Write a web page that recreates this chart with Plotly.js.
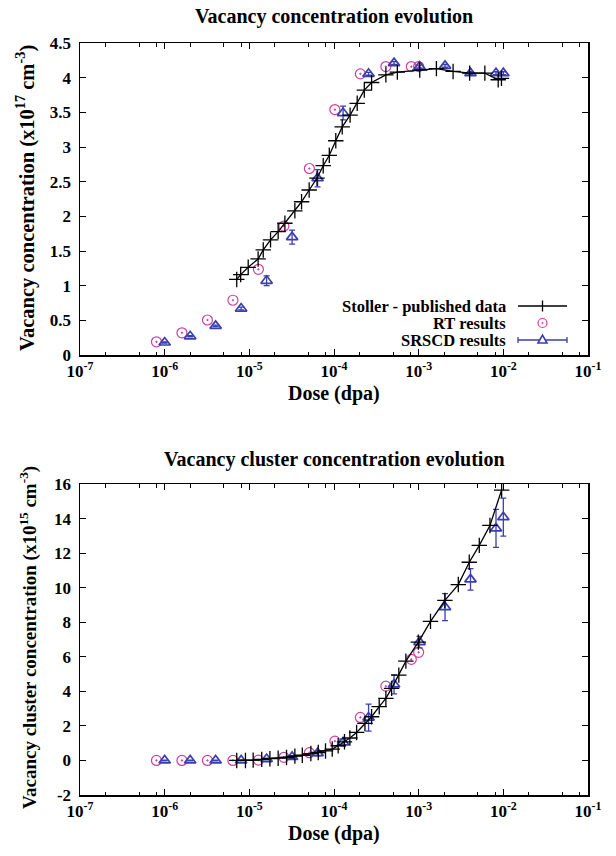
<!DOCTYPE html>
<html><head><meta charset="utf-8">
<script src="https://cdn.plot.ly/plotly-3.0.1.min.js"></script>
<style>html,body{margin:0;padding:0;background:#fff}#chart{width:616px;height:856px}</style>
</head><body><div id="chart"></div>
<script>
// ---------- Data: top panel (vacancy concentration, x1e17 cm^-3) ----------
const topStollerDose = [7.1e-6,7.9e-6,9.7e-6,1.27e-5,1.46e-5,1.78e-5,2.19e-5,2.63e-5,3.45e-5,4.14e-5,5.09e-5,6.3e-5,7.46e-5,8.8e-5,1.05e-4,1.25e-4,1.55e-4,1.88e-4,2.28e-4,2.78e-4,4.1e-4,5.6e-4,1.03e-3,1.62e-3,2.55e-3,4.0e-3,6.05e-3,8.7e-3,9.5e-3];
const topStollerVal  = [1.09,1.16,1.265,1.385,1.515,1.66,1.78,1.90,2.08,2.21,2.38,2.55,2.73,2.88,3.09,3.29,3.46,3.63,3.82,3.93,4.04,4.08,4.11,4.13,4.09,4.065,4.065,3.97,3.99];
const rtDose = [8e-7,1.6e-6,3.2e-6,6.4e-6,1.28e-5,2.56e-5,5.12e-5,1.024e-4,2.048e-4,4.096e-4,8.192e-4,1e-3];
const topRtVal = [0.19,0.32,0.505,0.79,1.236,1.86,2.69,3.54,4.055,4.16,4.16,4.16];
const srscdDose = [1e-6,2e-6,4e-6,8e-6,1.6e-5,3.2e-5,6.4e-5,1.28e-4,2.56e-4,5.12e-4,1.024e-3,2.048e-3,4.096e-3,8.192e-3,1e-2];
const topSrscdVal = [0.18,0.27,0.42,0.67,1.07,1.70,2.55,3.49,4.055,4.21,4.16,4.17,4.065,4.065,4.065];
const topSrscdErr = [0.01,0.01,0.01,0.02,0.07,0.1,0.125,0.1,0.02,0.02,0.02,0.02,0.02,0.02,0.02];

// ---------- Data: bottom panel (vacancy cluster concentration, x1e15 cm^-3) ----------
const botStollerDose = [7.1e-6,9.0e-6,1.11e-5,1.40e-5,1.75e-5,2.19e-5,2.75e-5,3.45e-5,4.22e-5,5.33e-5,6.52e-5,7.94e-5,9.53e-5,1.12e-4,1.33e-4,1.54e-4,1.85e-4,2.32e-4,2.78e-4,3.42e-4,4.10e-4,4.79e-4,5.83e-4,7.06e-4,9.91e-4,1.38e-3,2.04e-3,2.94e-3,3.96e-3,5.20e-3,6.95e-3,9.55e-3];
const botStollerVal  = [0.0,0.0,0.02,0.06,0.10,0.13,0.17,0.25,0.30,0.40,0.46,0.55,0.66,0.85,1.08,1.30,1.62,2.14,2.53,3.11,3.59,4.17,4.94,5.75,6.85,8.05,9.26,10.18,11.47,12.45,13.6,15.65];
const botRtVal = [0,0,0,0,0.02,0.18,0.45,1.12,2.49,4.3,5.85,6.26];
const botSrscdVal = [0,0,0,0,0.08,0.2,0.42,1.05,2.48,4.4,6.85,8.87,10.48,13.43,14.08];
const botSrscdErr = [0.02,0.02,0.02,0.02,0.05,0.08,0.15,0.2,0.78,0.55,0.33,0.78,0.62,1.1,1.1];

// ---------- Tick labels ----------
const decadeVals = [1e-7,1e-6,1e-5,1e-4,1e-3,1e-2,1e-1];
const decadeText = ['10<sup>-7</sup>','10<sup>-6</sup>','10<sup>-5</sup>','10<sup>-4</sup>','10<sup>-3</sup>','10<sup>-2</sup>','10<sup>-1</sup>'];
const minorVals = [2e-7,5e-7,8e-7,2e-6,5e-6,8e-6,2e-5,5e-5,8e-5,2e-4,5e-4,8e-4,2e-3,5e-3,8e-3,2e-2,5e-2,8e-2];
const topYVals = [0,0.5,1,1.5,2,2.5,3,3.5,4,4.5];
const topYText = ['0','0.5','1','1.5','2','2.5','3','3.5','4','4.5'];
const botYVals = [-2,0,2,4,6,8,10,12,14,16];
const botYText = ['-2','0','2','4','6','8','10','12','14','16'];

const FONT = 'Liberation Serif';
const PINK = '#cf3f9f';
const BLUE = '#3a3fae';

function xax(anchor){
  return {type:'log', range:[-7,-1], domain:[0,1], anchor:anchor,
    tickmode:'array', tickvals:decadeVals, ticktext:decadeText,
    ticks:'inside', ticklen:6, tickwidth:1, tickcolor:'#000',
    minor:{tickmode:'array', tickvals:minorVals, ticks:'inside', ticklen:3.5, tickwidth:1, tickcolor:'#000'},
    showline:true, linewidth:1.5, linecolor:'#000', mirror:'allticks',
    showgrid:false, zeroline:false, fixedrange:true,
    tickfont:{family:FONT, size:17, color:'#000', weight:'bold'}};
}
function yax(anchor, domain, range, vals, text){
  return {anchor:anchor, domain:domain, range:range,
    tickmode:'array', tickvals:vals, ticktext:text,
    ticks:'inside', ticklen:6, tickwidth:1, tickcolor:'#000',
    showline:true, linewidth:1.5, linecolor:'#000', mirror:'allticks',
    showgrid:false, zeroline:false, fixedrange:true, ticklabelstandoff:4,
    tickfont:{family:FONT, size:17, color:'#000', weight:'bold'}};
}

function stoller(x,y,xa,ya){
  return {x:x, y:y, xaxis:xa, yaxis:ya, mode:'lines+markers', showlegend:false,
    line:{color:'#000', width:1.3},
    marker:{symbol:'cross-thin-open', size:11, color:'#000', line:{color:'#000', width:1.3}}};
}
function rt(x,y,xa,ya){
  return {x:x, y:y, xaxis:xa, yaxis:ya, mode:'markers', showlegend:false,
    marker:{symbol:'circle-open-dot', size:10, color:PINK, line:{color:PINK, width:1.2}}};
}
function srscd(x,y,e,xa,ya){
  return {x:x, y:y, xaxis:xa, yaxis:ya, mode:'markers', showlegend:false,
    error_y:{type:'data', array:e, visible:true, color:BLUE, thickness:1.3, width:3},
    marker:{symbol:'triangle-up-open', size:10, color:BLUE, line:{color:BLUE, width:1.7}}};
}

const data = [
  rt(rtDose, topRtVal, 'x', 'y'),
  srscd(srscdDose, topSrscdVal, topSrscdErr, 'x', 'y'),
  stoller(topStollerDose, topStollerVal, 'x', 'y'),
  rt(rtDose, botRtVal, 'x2', 'y2'),
  srscd(srscdDose, botSrscdVal, botSrscdErr, 'x2', 'y2'),
  stoller(botStollerDose, botStollerVal, 'x2', 'y2')
];

// paper y of a pixel row (plot area spans px 43..795)
function py(p){ return (795 - p) / 752; }
function px(p){ return (p - 80) / 508; }

const ann = [];
function txt(text, x, y, size, opts){
  ann.push(Object.assign({text:'<b>'+text+'</b>', x:x, y:y, xref:'paper', yref:'paper',
    showarrow:false, xanchor:'center', yanchor:'middle',
    font:{family:FONT, size:size, color:'#000'}}, opts||{}));
}
txt('Vacancy concentration evolution', 0.5, py(16), 20);
txt('Vacancy cluster concentration evolution', 0.5, py(459), 20);
txt('Dose (dpa)', 0.5, py(393), 20);
txt('Dose (dpa)', 0.5, py(833), 20);
txt('Vacancy concentration (x10<sup>17</sup> cm<sup>-3</sup>)', px(26), py(198), 20.5, {textangle:-90});
txt('Vacancy cluster concentration (x10<sup>15</sup> cm<sup>-3</sup>)', px(28), py(638), 19, {textangle:-90});
// legend text
txt('Stoller - published data', px(508), py(306), 16.5, {xanchor:'right'});
txt('RT results', px(508), py(323), 16.5, {xanchor:'right'});
txt('SRSCD results', px(508), py(340), 16.5, {xanchor:'right'});

const lx0 = px(518), lx1 = px(567), lxc = px(542.5);
const shapes = [
  // Stoller legend sample
  {type:'line', xref:'paper', yref:'paper', x0:lx0, x1:lx1, y0:py(306), y1:py(306), line:{color:'#000', width:1.3}},
  {type:'line', xref:'paper', yref:'paper', x0:lxc, x1:lxc, ysizemode:'pixel', yanchor:py(306), y0:-5.5, y1:5.5, line:{color:'#000', width:1.3}},
  // RT legend sample
  {type:'circle', xref:'paper', yref:'paper', xsizemode:'pixel', ysizemode:'pixel', xanchor:lxc, yanchor:py(323), x0:-4.5, x1:4.5, y0:-4.5, y1:4.5, line:{color:PINK, width:1.2}},
  {type:'circle', xref:'paper', yref:'paper', xsizemode:'pixel', ysizemode:'pixel', xanchor:lxc, yanchor:py(323), x0:-0.8, x1:0.8, y0:-0.8, y1:0.8, fillcolor:PINK, line:{color:PINK, width:0.5}},
  // SRSCD legend sample
  {type:'line', xref:'paper', yref:'paper', x0:lx0, x1:lx1, y0:py(340), y1:py(340), line:{color:BLUE, width:1.3}},
  {type:'line', xref:'paper', yref:'paper', x0:lx0, x1:lx0, ysizemode:'pixel', yanchor:py(340), y0:-3, y1:3, line:{color:BLUE, width:1.3}},
  {type:'line', xref:'paper', yref:'paper', x0:lx1, x1:lx1, ysizemode:'pixel', yanchor:py(340), y0:-3, y1:3, line:{color:BLUE, width:1.3}},
  {type:'path', xref:'paper', yref:'paper', xsizemode:'pixel', ysizemode:'pixel', xanchor:lxc, yanchor:py(340),
    path:'M-4.5,-3 L4.5,-3 L0,4.8 Z', fillcolor:'#fff', line:{color:BLUE, width:1.6}}
];

const layout = {
  width:616, height:856,
  margin:{l:80, r:28, t:43, b:61},
  paper_bgcolor:'#fff', plot_bgcolor:'#fff',
  showlegend:false,
  xaxis: xax('y'),
  yaxis: yax('x', [py(355), 1], [0,4.5], topYVals, topYText),
  xaxis2: xax('y2'),
  yaxis2: yax('x2', [0, py(484)], [-2,16], botYVals, botYText),
  annotations: ann,
  shapes: shapes,
  font:{family:FONT, color:'#000'}
};

Plotly.newPlot('chart', data, layout, {staticPlot:true, displayModeBar:false});
</script>
</body></html>
